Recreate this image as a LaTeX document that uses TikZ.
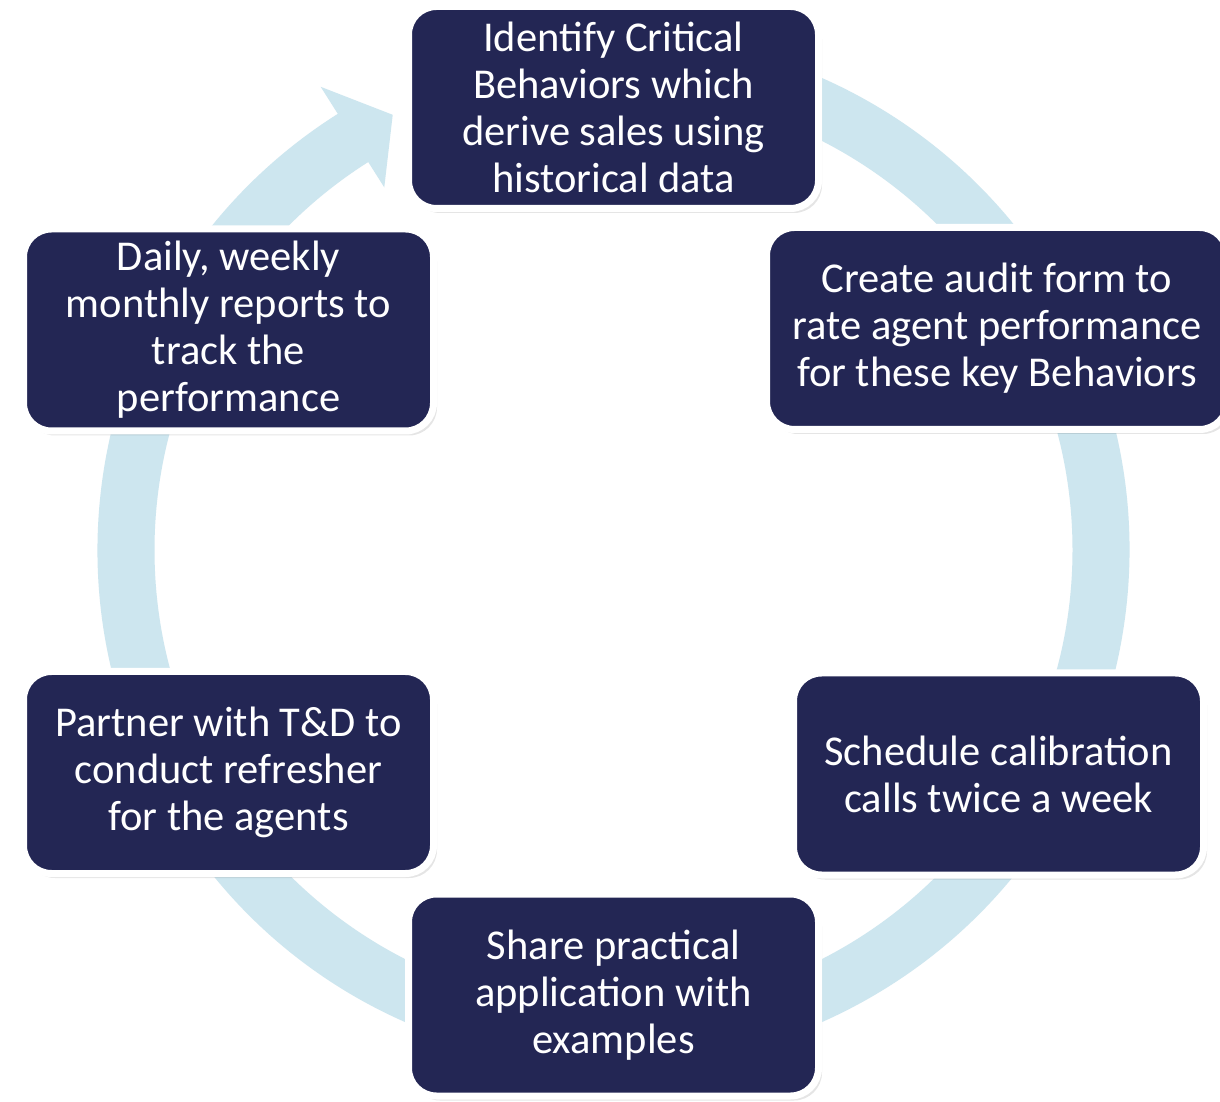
\documentclass[tikz,border=0pt]{standalone}
\usepackage{fontspec}
\setmainfont{Carlito}
\usetikzlibrary{shadows}
\definecolor{navy}{HTML}{232654}
\definecolor{ringblue}{HTML}{CDE6EF}
\begin{document}
\begin{tikzpicture}[x=1pt,y=1pt,
  stepbox/.style={rectangle, rounded corners=28pt, fill=navy, draw=white,
    line width=7pt, text=white, align=center, inner sep=0pt,
    minimum width=410pt, minimum height=202pt,
    font=\fontsize{42.5}{47}\selectfont,
    drop shadow={shadow xshift=3.5pt, shadow yshift=-4.5pt, opacity=0.10, fill=black},
    drop shadow={shadow xshift=1.5pt, shadow yshift=-2.5pt, opacity=0.22, fill=black}}]
\useasboundingbox (0,0) rectangle (1220,1101);
\fill[white] (0,0) rectangle (1220,1101);

% circular flow band with its arrowhead
\begin{scope}[shift={(613.5,551)}]
  \fill[ringblue] (122.3:516) arc[start angle=122.3, end angle=450, radius=516]
    -- (450:459) arc[start angle=450, end angle=122.3, radius=459]
    -- (122.3:429) -- (116.9:488) -- (122.3:548) -- cycle;
\end{scope}

% process steps
\node[stepbox] (s1) at (613.5,993.5) {Identify Critical\\Behaviors which\\derive sales using\\historical data};
\node[stepbox, minimum width=461pt] (s2) at (997,772.5) {Create audit form to\\rate agent performance\\for these key Behaviors};
\node[stepbox] (s3) at (998.5,327) {Schedule calibration\\calls twice a week};
\node[stepbox] (s4) at (613.5,106) {Share practical\\application with\\examples};
\node[stepbox] (s5) at (228.5,328.5) {Partner with T\&D to\\conduct refresher\\for the agents};
\node[stepbox] (s6) at (228.5,771) {Daily, weekly\\monthly reports to\\track the\\performance};
\end{tikzpicture}
\end{document}
